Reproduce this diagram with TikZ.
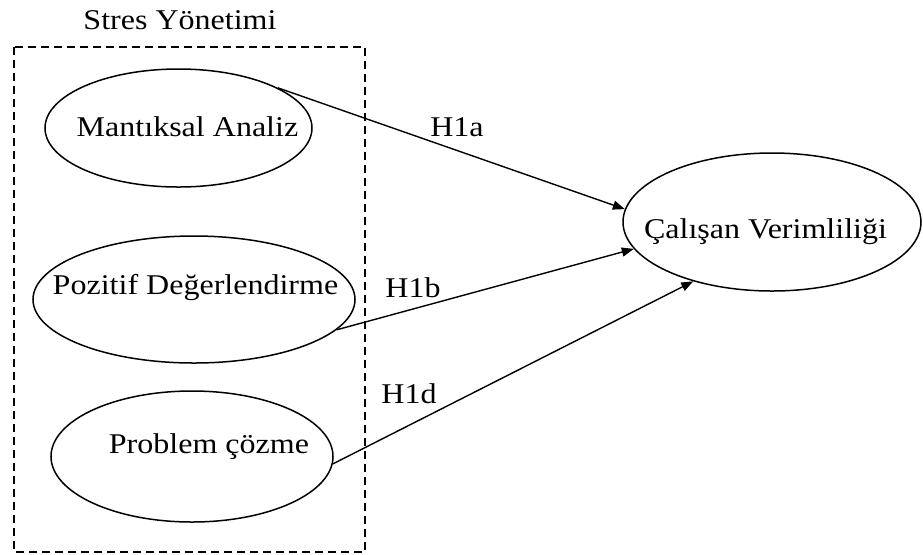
\documentclass[tikz,border=0pt]{standalone}
\usepackage{fontspec}
\setmainfont{Liberation Serif}[FakeStretch=1.12]
\usetikzlibrary{shapes.geometric,arrows.meta}

\tikzset{
  factor/.style={draw, ellipse, line width=0.75pt, inner sep=0pt},
  path/.style={line width=0.7pt, -{Triangle[length=6pt,width=4.5pt]}},
  groupbox/.style={line width=0.75pt, dash pattern=on 4pt off 2.5pt}
}

\begin{document}
\begin{tikzpicture}[x=0.5pt, y=-0.5pt, every node/.style={font=\fontsize{14.3}{17}\selectfont}]
  \useasboundingbox (0,0) rectangle (923,554);
  % stress management block
  \node (title) at (180,20) {Stres Yönetimi};
  \draw[groupbox] (14,47) rectangle (365,552);
  \node[factor, minimum width=133.5pt, minimum height=59pt,
        label={[xshift=4.5pt, yshift=0.5pt]center:Mantıksal Analiz}] (ma) at (178.5,128) {};
  \node[factor, minimum width=161pt, minimum height=63.5pt,
        label={[xshift=0.75pt, yshift=5.75pt]center:Pozitif Değerlendirme}] (pd) at (194,299.5) {};
  \node[factor, minimum width=141pt, minimum height=65.5pt,
        label={[xshift=8.5pt, yshift=4.75pt]center:Problem çözme}] (pc) at (192,456.5) {};
  % outcome
  \node[factor, minimum width=149pt, minimum height=69pt,
        label={[xshift=-3.25pt, yshift=-5pt]center:Çalışan Verimliliği}] (cv) at (772,222) {};
  % hypotheses
  \draw[path] (ma.22.6) -- (cv.175.3);
  \draw[path] (pd.348.8) -- (cv.191.7);
  \draw[path] (pc.357.4) -- (cv.217);
  \node (h1a) at (457,127) {H1a};
  \node (h1b) at (413,288) {H1b};
  \node (h1d) at (409,394) {H1d};
\end{tikzpicture}
\end{document}
